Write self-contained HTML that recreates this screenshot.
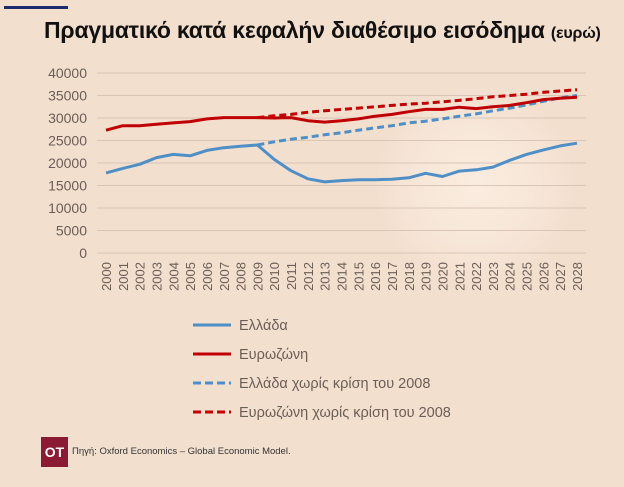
<!DOCTYPE html>
<html><head><meta charset="utf-8"><style>
body{margin:0;width:624px;height:487px;overflow:hidden;background:#f3dfce;font-family:"Liberation Sans",sans-serif;}
#root{position:relative;width:624px;height:487px;background:radial-gradient(circle at 475px 185px,rgba(255,245,235,0.6) 0,rgba(255,245,235,0.35) 60px,rgba(243,223,206,0) 100px),#f3dfce;}
</style></head><body>
<div id="root">
<div style="position:absolute;left:4px;top:6px;width:64px;height:3px;background:#1d2a6e"></div>
<div style="position:absolute;left:44px;top:17px;font-size:23px;font-weight:bold;color:#111;letter-spacing:-0.2px;white-space:nowrap">Πραγματικό κατά κεφαλήν διαθέσιμο εισόδημα <span style="font-size:16px">(ευρώ)</span></div>
<svg id="chart" width="624" height="487" style="position:absolute;left:0;top:0"></svg>
<div style="position:absolute;left:41px;top:437px;width:27px;height:30px;background:#8b1a35;color:#fff;font-weight:bold;font-size:14px;line-height:30px;text-align:center">OT</div>
<div style="position:absolute;left:72px;top:446px;font-size:9.5px;color:#333;white-space:nowrap">Πηγή: Oxford Economics – Global Economic Model.</div>
</div>
<script>
const years=[];for(let y=2000;y<=2028;y++)years.push(y);
const yTicks=[0,5000,10000,15000,20000,25000,30000,35000,40000];
const greece=[17800,18800,19700,21200,21900,21600,22800,23400,23700,24000,20800,18300,16500,15800,16100,16300,16300,16400,16700,17700,17000,18200,18500,19100,20600,21900,22900,23800,24400];
const eurozone=[27300,28300,28300,28600,28900,29200,29800,30100,30100,30100,30000,30100,29400,29100,29400,29800,30400,30800,31400,31900,31900,32400,32100,32500,32800,33400,34100,34400,34600];
const greeceNoCrisisStart=2009;
const greeceNoCrisis=[24000,24700,25300,25700,26300,26700,27300,27800,28300,28900,29300,29800,30400,30900,31600,32200,32900,33700,34500,35000];
const eurozoneNoCrisis=[30100,30500,30800,31300,31600,31900,32200,32500,32800,33100,33300,33600,33900,34300,34700,35000,35300,35700,36000,36300];
const NS="http://www.w3.org/2000/svg";const svg=document.getElementById('chart');
const X=y=>106+(y-2000)*(577-106)/28;const Y=v=>253-v*(253-73)/40000;
function mk(t,a){const e=document.createElementNS(NS,t);for(const k in a)e.setAttribute(k,a[k]);svg.appendChild(e);return e;}
yTicks.forEach(v=>{const g=mk('line',{x1:97,x2:586,y1:Y(v),y2:Y(v),stroke:'#d9c6b6','stroke-width':1});


const t=mk('text',{x:87,y:Y(v)+5,'text-anchor':'end','font-size':14,fill:'#6b5e57','font-family':'Liberation Sans, sans-serif'});t.textContent=v;

});
years.forEach(y=>{const t=mk('text',{transform:`translate(${X(y)+5},262) rotate(-90)`,'text-anchor':'end','font-size':13,fill:'#6b5e57','font-family':'Liberation Sans, sans-serif'});t.textContent=y;

});
function line(vals,start,color,dash,name){const d=vals.map((v,i)=>(i?'L':'M')+X(start+i).toFixed(1)+','+Y(v).toFixed(1)).join('');
const p=mk('path',{d:d,fill:'none',stroke:color,'stroke-width':3,'stroke-dasharray':dash||'none','stroke-linejoin':'round'});

}
line(greeceNoCrisis,greeceNoCrisisStart,'#4f8fc6','7,4','greece-no-crisis-line');
line(eurozoneNoCrisis,greeceNoCrisisStart,'#c00000','7,4','eurozone-no-crisis-line');
line(greece,2000,'#4f8fc6',null,'greece-line');
line(eurozone,2000,'#c00000',null,'eurozone-line');
const leg=[['Ελλάδα','#4f8fc6',null],['Ευρωζώνη','#c00000',null],['Ελλάδα  χωρίς κρίση του 2008','#4f8fc6','8,4'],['Ευρωζώνη χωρίς κρίση του 2008','#c00000','8,4']];
const ly=[325,354,383,412];
leg.forEach((l,i)=>{const s=mk('line',{x1:193,x2:231,y1:ly[i],y2:ly[i],stroke:l[1],'stroke-width':3,'stroke-dasharray':l[2]||'none'});


const t=mk('text',{x:239,y:ly[i]+5,'font-size':14.5,fill:'#6b5e57','font-family':'Liberation Sans, sans-serif'});t.textContent=l[0];

});
</script>
</body></html>
